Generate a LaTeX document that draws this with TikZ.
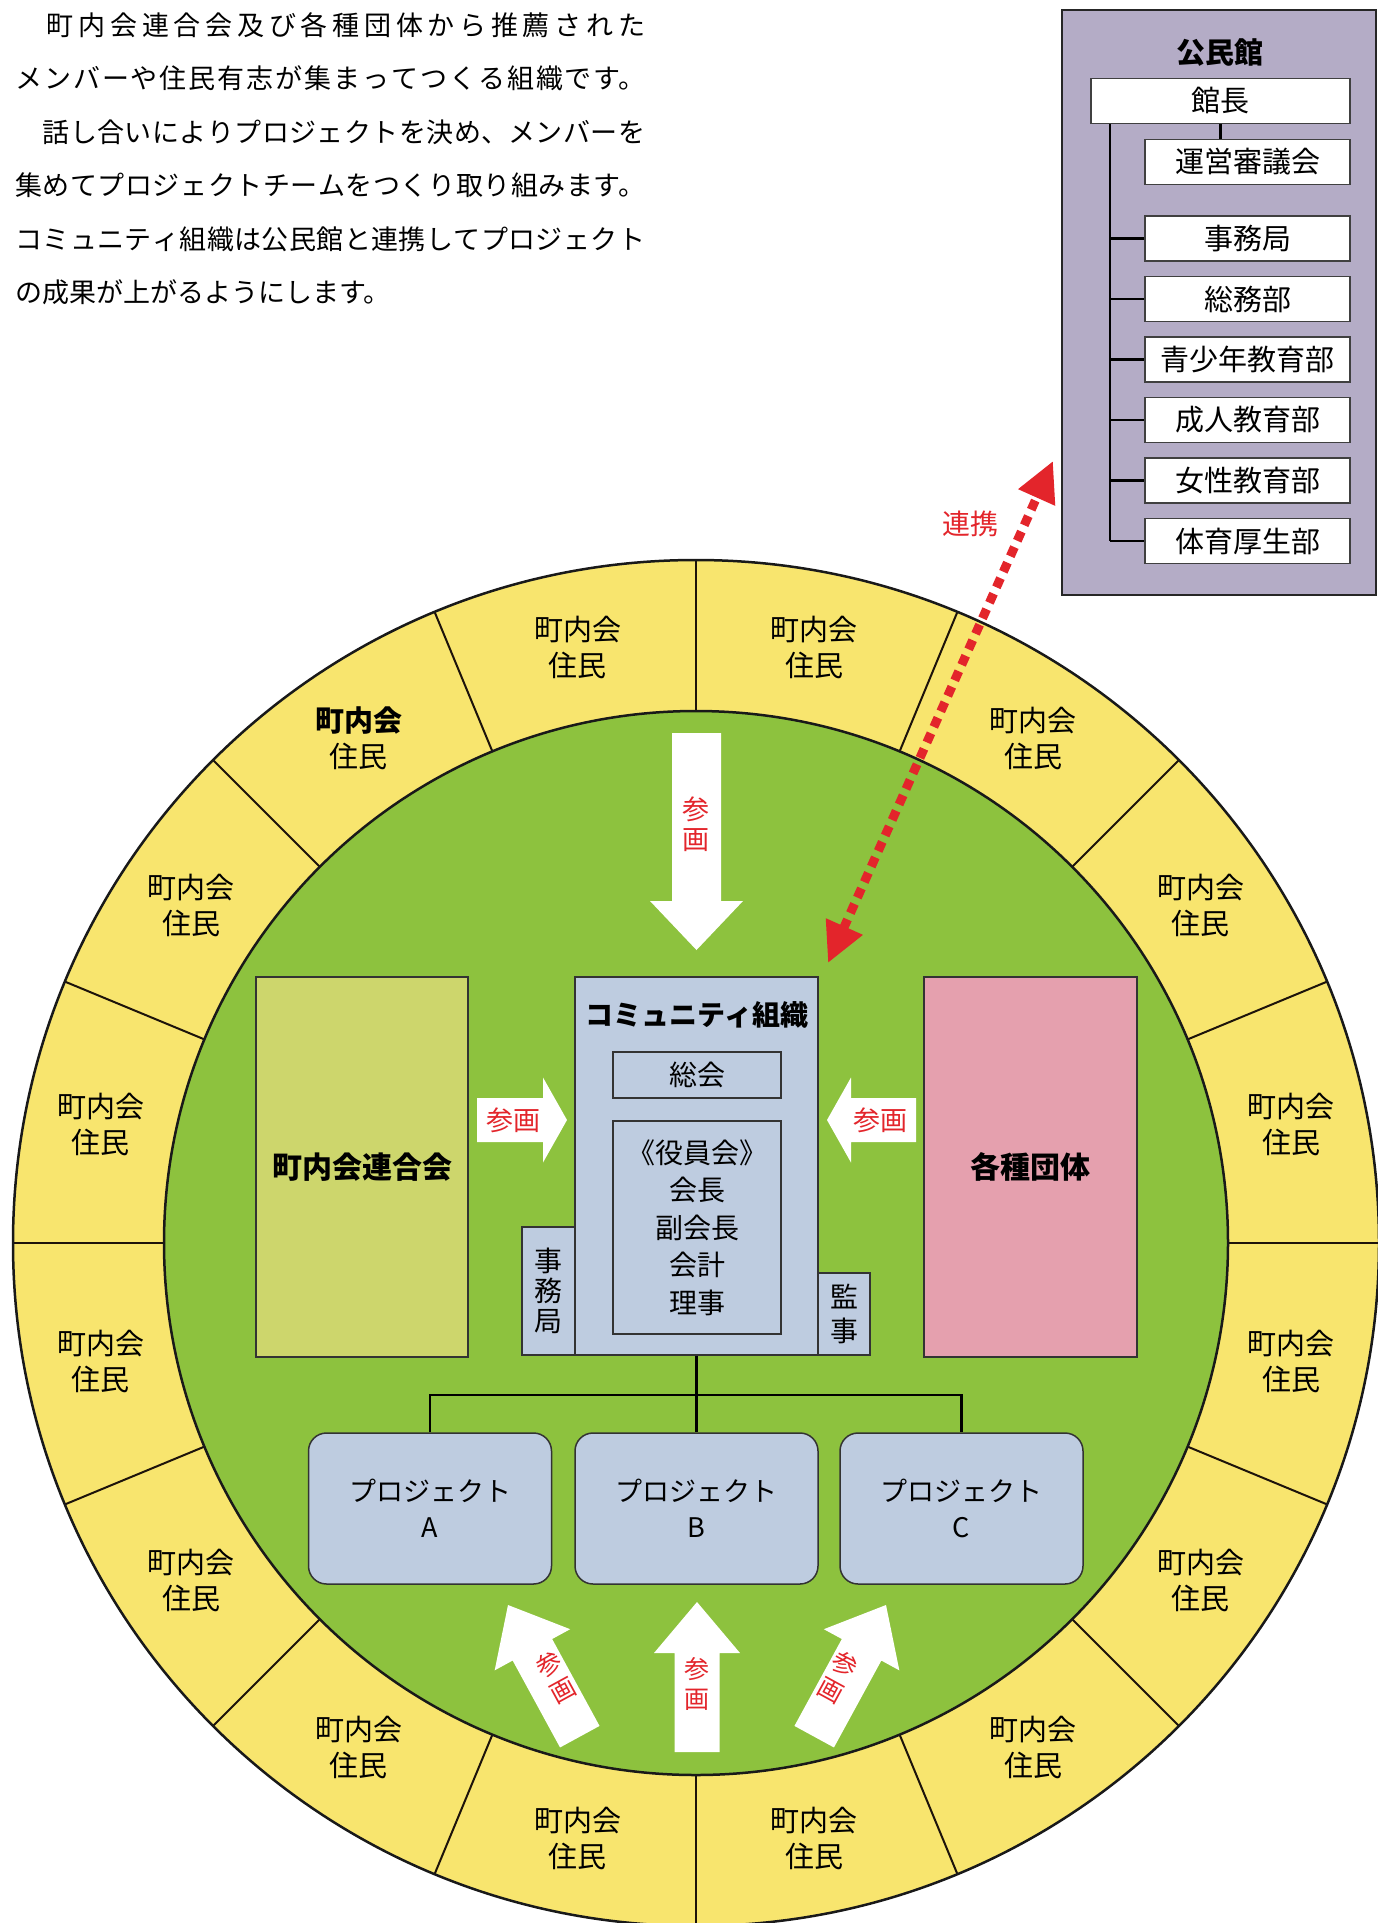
\documentclass[tikz,border=0pt]{standalone}
\usepackage{fontspec}
\setmainfont{Noto Sans CJK JP}
\usetikzlibrary{arrows.meta}
\definecolor{ringyellow}{RGB}{248,229,110}
\definecolor{fieldgreen}{RGB}{141,194,62}
\definecolor{rengoolive}{RGB}{205,214,108}
\definecolor{dantaipink}{RGB}{229,160,174}
\definecolor{orgblue}{RGB}{190,204,224}
\definecolor{hallgray}{RGB}{180,172,198}
\definecolor{sankared}{RGB}{227,37,43}
\tikzset{
  pics/fatarrow/.style n args={4}{code={
    \fill[white] (0,0) -- (-#3/2,#4) -- (-#2/2,#4) -- (-#2/2,#1) -- (#2/2,#1) -- (#2/2,#4) -- (#3/2,#4) -- cycle;}},
  rim/.style={draw=black!90,line width=2.5pt},
  divider/.style={draw=black!85!brown,line width=2pt},
  ringtext/.style={align=center,inner sep=0pt,font=\fontsize{29}{36}\selectfont},
  bigbox/.style={draw=black!80,line width=1.5pt,minimum width=212pt,minimum height=380pt,font=\bfseries\fontsize{30}{36}\selectfont},
  orgbox/.style={draw=black!80,line width=1.5pt,fill=orgblue,inner sep=0pt,align=center},
  sankatext/.style={text=sankared,align=center,inner sep=0pt,font=\fontsize{27}{30}\selectfont},
  tilttext/.style={sankatext,font=\fontsize{25}{30}\selectfont},
  projbox/.style={draw=black!80,line width=1.5pt,fill=orgblue,rounded corners=18pt,minimum width=243pt,minimum height=151pt,align=center,font=\fontsize{27}{36}\selectfont},
  tree/.style={draw=black,line width=2.5pt},
  hallbox/.style={draw=black!75,line width=1.5pt,fill=white,inner sep=0pt,minimum height=45pt,font=\fontsize{29}{34}\selectfont},
  linkarrow/.style={draw=sankared,line width=9pt,dash pattern=on 10pt off 7pt,{Triangle[length=40pt,width=38pt]}-{Triangle[length=40pt,width=38pt]}}
}
\begin{document}
\begin{tikzpicture}[x=1pt,y=-1pt]
\useasboundingbox (0,0) rectangle (1377,1923);
\fill[white] (0,0) rectangle (1377,1923);

\node[anchor=north west,text width=630pt,inner sep=0pt,align=justify,font=\fontsize{27}{53.5}\selectfont] (intro) at (15,11) {\XeTeXlinebreaklocale "ja"\XeTeXlinebreakskip=0pt plus 5pt\relax\rule{0pt}{24pt}　町内会連合会及び各種団体から推薦された\linebreak
メンバーや住民有志が集まってつくる組織です。\linebreak
　話し合いによりプロジェクトを決め、メンバーを\linebreak
集めてプロジェクトチームをつくり取り組みます。\linebreak
コミュニティ組織は公民館と連携してプロジェクト\linebreak
の成果が上がるようにします。};

\begin{scope}[shift={(696,1243)}]
  \fill[ringyellow] (0,0) circle[radius=683];
  \foreach \k in {0,...,15}
    \draw[divider] (22.5*\k:532) -- (22.5*\k:683);
  \draw[rim] (0,0) circle[radius=683];
  \fill[fieldgreen] (0,0) circle[radius=532];
  \draw[rim] (0,0) circle[radius=532];
  \foreach \k in {0,...,15}
    \node[ringtext] (ring\k) at (11.25+22.5*\k:607) {{\ifnum\k=10 \bfseries\fi 町内会}\\住民};
\end{scope}

\node[bigbox,fill=rengoolive] (rengo) at (362,1167) {町内会連合会};
\node[bigbox,fill=dantaipink,minimum width=213pt] (dantai) at (1030.5,1167) {各種団体};

\pic[rotate=180] at (696.5,950) {fatarrow={217}{49}{93}{49}};
\pic[rotate=-90] at (567,1120) {fatarrow={90}{44}{85}{24}};
\pic[rotate=90] at (827,1120) {fatarrow={89}{44}{85}{24}};
\pic at (697,1602) {fatarrow={150}{45}{86}{51}};
\pic[rotate=28.6] at (508,1605) {fatarrow={150}{45}{86}{51}};
\pic[rotate=-28.6] at (886,1605) {fatarrow={150}{45}{86}{51}};
\node[sankatext] (sankaT) at (696,824) {参\\画};
\node[sankatext] (sankaL) at (513,1120) {参画};
\node[sankatext] (sankaR) at (880,1120) {参画};
\node[tilttext] (sankaB) at (697,1684) {参\\画};
\node[tilttext,rotate=28.6] (sankaBL) at (556,1677) {参\\画};
\node[tilttext,rotate=-28.6] (sankaBR) at (838,1677) {参\\画};

\node[orgbox,minimum width=53pt,minimum height=128pt,font=\fontsize{28}{30}\selectfont] (jimu) at (548.5,1291) {事\\務\\局};
\node[orgbox,minimum width=52pt,minimum height=82pt,font=\fontsize{28}{34}\selectfont] (kanji) at (844,1314) {監\\事};
\node[orgbox,minimum width=243pt,minimum height=378pt] (comm) at (696.5,1166) {};
\node[font=\bfseries\fontsize{28}{34}\selectfont] (commtitle) at (697,1015) {コミュニティ組織};
\node[orgbox,line width=1.2pt,minimum width=168pt,minimum height=46pt,font=\fontsize{28}{34}\selectfont] (sokai) at (697,1075) {総会};
\node[orgbox,line width=1.2pt,minimum width=168pt,minimum height=213pt,font=\fontsize{28}{37.5}\selectfont] (yakuin) at (697,1227.5) {《役員会》\\会長\\副会長\\会計\\理事};

\node[projbox] (projA) at (430,1508.5) {プロジェクト\\A};
\node[projbox] (projB) at (696.5,1508.5) {プロジェクト\\B};
\node[projbox] (projC) at (961.5,1508.5) {プロジェクト\\C};
\coordinate (bus) at (696.5,1395);
\draw[tree] (comm.south) -- (projB.north);
\draw[tree] (projA.north) |- (bus) -| (projC.north);

\node[draw=black!85,line width=2pt,fill=hallgray,minimum width=314pt,minimum height=585pt] (hall) at (1219,302.5) {};
\node[font=\bfseries\fontsize{29}{34}\selectfont] (halltitle) at (1220,53) {公民館};
\node[hallbox,minimum width=259pt] (kancho) at (1220.5,101) {館長};
\node[hallbox,minimum width=205pt] (unei) at (1247.5,162) {運営審議会};
\draw[tree] (kancho.south) -- (kancho.south |- unei.north);
\coordinate (trunk) at (1110,124);
\foreach \boxid/\txt/\yy in {jimukyoku/事務局/238.5,somu/総務部/299,seishonen/青少年教育部/359.5,seijin/成人教育部/420,josei/女性教育部/480.5,taiiku/体育厚生部/541}
  {\node[hallbox,minimum width=205pt] (\boxid) at (1247.5,\yy) {\txt};
   \draw[tree] (trunk |- \boxid.west) -- (\boxid.west);}
\draw[tree] (trunk) -- (trunk |- taiiku.west);

\coordinate (linkcomm) at (828,963);
\coordinate (linkhall) at (1053,461);
\draw[linkarrow] (linkcomm) -- (linkhall);
\node[text=sankared,font=\fontsize{28}{32}\selectfont] (linklabel) at (970,524) {連携};
\end{tikzpicture}
\end{document}
